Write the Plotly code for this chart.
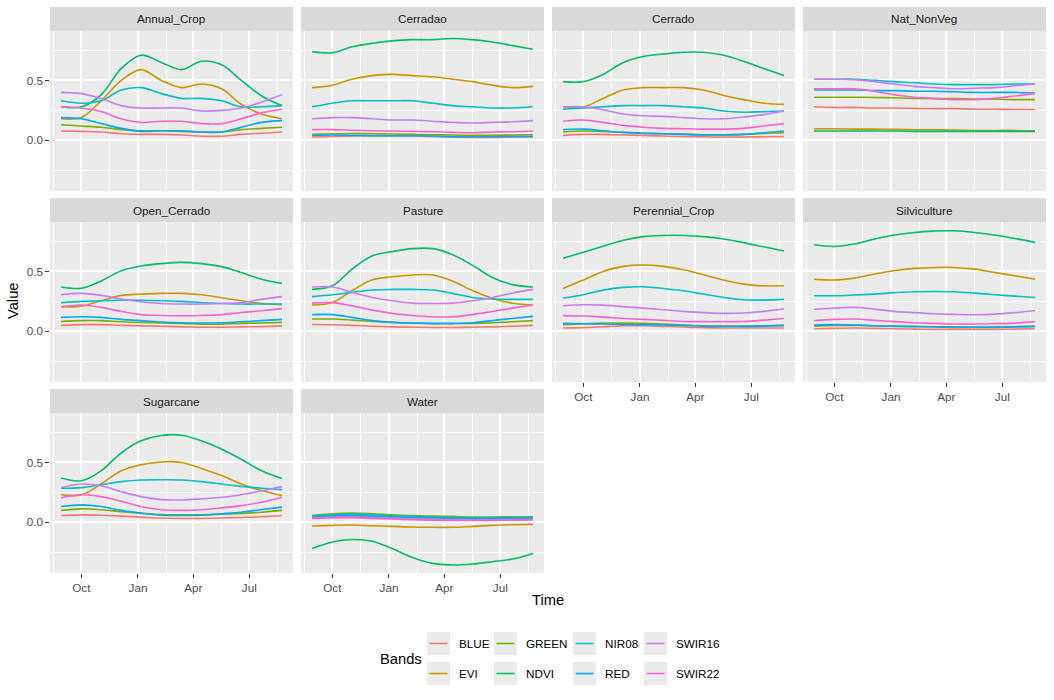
import plotly.graph_objects as go

# ---------------- data ----------------
dates = ["2022-08-29", "2022-10-01", "2022-11-02", "2022-12-05", "2023-01-06", "2023-02-08",
         "2023-03-13", "2023-04-14", "2023-05-17", "2023-06-18", "2023-07-21", "2023-08-23"]

bands = ["BLUE", "EVI", "GREEN", "NDVI", "NIR08", "RED", "SWIR16", "SWIR22"]
band_colors = ["#F8766D", "#CD9600", "#7CAE00", "#00BE67", "#00BFC4", "#00A9FF", "#C77CFF", "#FF61CC"]

classes = ["Annual_Crop", "Cerradao", "Cerrado", "Nat_NonVeg", "Open_Cerrado",
           "Pasture", "Perennial_Crop", "Silviculture", "Sugarcane", "Water"]

x_tick_labels = ["Oct", "Jan", "Apr", "Jul"]
y_tick_values = [0.0, 0.5]

annual_crop = {
    "BLUE":   [0.078, 0.075, 0.07, 0.055, 0.05, 0.05, 0.045, 0.035, 0.035, 0.05, 0.06, 0.07],
    "EVI":    [0.18, 0.19, 0.33, 0.50, 0.59, 0.50, 0.44, 0.47, 0.43, 0.30, 0.22, 0.18],
    "GREEN":  [0.13, 0.12, 0.11, 0.09, 0.08, 0.08, 0.075, 0.07, 0.07, 0.09, 0.10, 0.11],
    "NDVI":   [0.28, 0.28, 0.38, 0.60, 0.71, 0.65, 0.59, 0.66, 0.63, 0.50, 0.37, 0.29],
    "NIR08":  [0.33, 0.31, 0.33, 0.42, 0.44, 0.39, 0.35, 0.35, 0.33, 0.28, 0.28, 0.29],
    "RED":    [0.19, 0.18, 0.14, 0.10, 0.075, 0.08, 0.08, 0.07, 0.07, 0.11, 0.15, 0.165],
    "SWIR16": [0.40, 0.39, 0.35, 0.29, 0.27, 0.27, 0.27, 0.245, 0.25, 0.27, 0.32, 0.38],
    "SWIR22": [0.28, 0.27, 0.24, 0.18, 0.15, 0.16, 0.16, 0.14, 0.14, 0.18, 0.23, 0.26],
}
cerradao = {
    "BLUE":   [0.028, 0.033, 0.036, 0.036, 0.036, 0.036, 0.033, 0.028, 0.025, 0.025, 0.028, 0.028],
    "EVI":    [0.44, 0.46, 0.51, 0.54, 0.55, 0.54, 0.53, 0.51, 0.49, 0.46, 0.44, 0.45],
    "GREEN":  [0.05, 0.055, 0.058, 0.055, 0.053, 0.05, 0.047, 0.045, 0.042, 0.042, 0.045, 0.047],
    "NDVI":   [0.74, 0.73, 0.78, 0.81, 0.83, 0.84, 0.84, 0.85, 0.84, 0.82, 0.79, 0.76],
    "NIR08":  [0.28, 0.31, 0.33, 0.33, 0.33, 0.33, 0.31, 0.29, 0.28, 0.27, 0.27, 0.28],
    "RED":    [0.042, 0.045, 0.042, 0.039, 0.039, 0.039, 0.036, 0.03, 0.03, 0.03, 0.033, 0.033],
    "SWIR16": [0.18, 0.19, 0.19, 0.18, 0.17, 0.17, 0.16, 0.15, 0.145, 0.15, 0.155, 0.165],
    "SWIR22": [0.09, 0.09, 0.085, 0.08, 0.078, 0.075, 0.072, 0.067, 0.064, 0.07, 0.072, 0.078],
}
cerrado = {
    "BLUE":   [0.042, 0.05, 0.05, 0.045, 0.042, 0.036, 0.033, 0.03, 0.028, 0.028, 0.03, 0.033],
    "EVI":    [0.28, 0.28, 0.35, 0.42, 0.44, 0.44, 0.44, 0.42, 0.375, 0.34, 0.31, 0.30],
    "GREEN":  [0.07, 0.078, 0.075, 0.067, 0.06, 0.055, 0.053, 0.047, 0.047, 0.05, 0.058, 0.064],
    "NDVI":   [0.49, 0.49, 0.55, 0.65, 0.70, 0.72, 0.735, 0.735, 0.71, 0.66, 0.60, 0.54],
    "NIR08":  [0.26, 0.27, 0.28, 0.29, 0.29, 0.29, 0.28, 0.27, 0.245, 0.235, 0.24, 0.245],
    "RED":    [0.09, 0.094, 0.08, 0.067, 0.06, 0.055, 0.05, 0.045, 0.045, 0.05, 0.064, 0.078],
    "SWIR16": [0.28, 0.28, 0.255, 0.22, 0.205, 0.20, 0.19, 0.18, 0.18, 0.195, 0.215, 0.245],
    "SWIR22": [0.16, 0.17, 0.15, 0.125, 0.11, 0.10, 0.097, 0.094, 0.094, 0.10, 0.12, 0.14],
}
nat_nonveg = {
    "BLUE":   [0.28, 0.275, 0.275, 0.27, 0.27, 0.267, 0.265, 0.265, 0.26, 0.26, 0.258, 0.258],
    "EVI":    [0.097, 0.097, 0.094, 0.094, 0.092, 0.089, 0.089, 0.086, 0.083, 0.083, 0.083, 0.08],
    "GREEN":  [0.36, 0.36, 0.36, 0.358, 0.355, 0.35, 0.348, 0.348, 0.345, 0.343, 0.34, 0.34],
    "NDVI":   [0.078, 0.078, 0.078, 0.078, 0.078, 0.075, 0.075, 0.075, 0.075, 0.075, 0.075, 0.075],
    "NIR08":  [0.51, 0.51, 0.51, 0.50, 0.49, 0.48, 0.47, 0.465, 0.465, 0.465, 0.47, 0.47],
    "RED":    [0.42, 0.42, 0.42, 0.415, 0.415, 0.41, 0.41, 0.405, 0.40, 0.40, 0.40, 0.395],
    "SWIR16": [0.51, 0.51, 0.505, 0.49, 0.47, 0.45, 0.44, 0.43, 0.435, 0.44, 0.455, 0.47],
    "SWIR22": [0.43, 0.43, 0.43, 0.41, 0.38, 0.36, 0.35, 0.34, 0.34, 0.35, 0.37, 0.39],
}
open_cerrado = {
    "BLUE":   [0.05, 0.056, 0.056, 0.05, 0.046, 0.043, 0.038, 0.035, 0.035, 0.038, 0.04, 0.046],
    "EVI":    [0.205, 0.21, 0.255, 0.30, 0.31, 0.317, 0.317, 0.305, 0.28, 0.255, 0.233, 0.222],
    "GREEN":  [0.083, 0.09, 0.09, 0.08, 0.075, 0.07, 0.067, 0.06, 0.06, 0.067, 0.07, 0.075],
    "NDVI":   [0.37, 0.36, 0.42, 0.505, 0.545, 0.565, 0.575, 0.565, 0.54, 0.49, 0.435, 0.40],
    "NIR08":  [0.24, 0.25, 0.256, 0.26, 0.26, 0.256, 0.25, 0.24, 0.233, 0.228, 0.228, 0.228],
    "RED":    [0.117, 0.122, 0.117, 0.10, 0.09, 0.078, 0.072, 0.07, 0.072, 0.08, 0.09, 0.10],
    "SWIR16": [0.305, 0.317, 0.30, 0.27, 0.247, 0.233, 0.228, 0.228, 0.233, 0.24, 0.267, 0.29],
    "SWIR22": [0.205, 0.22, 0.20, 0.166, 0.14, 0.133, 0.13, 0.133, 0.14, 0.158, 0.172, 0.19],
}
pasture = {
    "BLUE":   [0.057, 0.055, 0.05, 0.043, 0.038, 0.035, 0.033, 0.033, 0.035, 0.038, 0.043, 0.05],
    "EVI":    [0.22, 0.24, 0.34, 0.43, 0.455, 0.47, 0.47, 0.42, 0.34, 0.275, 0.235, 0.22],
    "GREEN":  [0.103, 0.103, 0.094, 0.083, 0.075, 0.07, 0.064, 0.064, 0.067, 0.072, 0.08, 0.09],
    "NDVI":   [0.35, 0.38, 0.52, 0.63, 0.665, 0.69, 0.69, 0.64, 0.55, 0.45, 0.39, 0.37],
    "NIR08":  [0.29, 0.305, 0.325, 0.345, 0.35, 0.35, 0.345, 0.317, 0.283, 0.27, 0.267, 0.267],
    "RED":    [0.14, 0.14, 0.117, 0.09, 0.075, 0.07, 0.067, 0.067, 0.072, 0.09, 0.108, 0.125],
    "SWIR16": [0.37, 0.37, 0.325, 0.283, 0.255, 0.236, 0.233, 0.236, 0.255, 0.283, 0.32, 0.35],
    "SWIR22": [0.236, 0.24, 0.213, 0.177, 0.15, 0.133, 0.122, 0.122, 0.14, 0.166, 0.194, 0.22],
}
perennial_crop = {
    "BLUE":   [0.028, 0.031, 0.039, 0.047, 0.047, 0.042, 0.036, 0.031, 0.028, 0.028, 0.028, 0.028],
    "EVI":    [0.358, 0.428, 0.50, 0.542, 0.553, 0.542, 0.514, 0.472, 0.428, 0.394, 0.38, 0.38],
    "GREEN":  [0.056, 0.064, 0.069, 0.069, 0.067, 0.061, 0.053, 0.047, 0.044, 0.044, 0.047, 0.05],
    "NDVI":   [0.61, 0.66, 0.71, 0.76, 0.79, 0.80, 0.80, 0.79, 0.77, 0.74, 0.705, 0.67],
    "NIR08":  [0.278, 0.306, 0.344, 0.367, 0.372, 0.358, 0.339, 0.311, 0.283, 0.264, 0.261, 0.267],
    "RED":    [0.067, 0.064, 0.061, 0.058, 0.056, 0.053, 0.05, 0.044, 0.042, 0.042, 0.044, 0.05],
    "SWIR16": [0.214, 0.222, 0.219, 0.206, 0.194, 0.181, 0.167, 0.156, 0.15, 0.153, 0.167, 0.189],
    "SWIR22": [0.131, 0.128, 0.119, 0.108, 0.10, 0.092, 0.083, 0.081, 0.081, 0.083, 0.094, 0.108],
}
silviculture = {
    "BLUE":   [0.022, 0.025, 0.028, 0.025, 0.022, 0.019, 0.017, 0.017, 0.017, 0.017, 0.019, 0.022],
    "EVI":    [0.436, 0.428, 0.444, 0.478, 0.506, 0.525, 0.533, 0.533, 0.519, 0.492, 0.464, 0.436],
    "GREEN":  [0.044, 0.05, 0.05, 0.047, 0.042, 0.039, 0.036, 0.033, 0.033, 0.033, 0.036, 0.039],
    "NDVI":   [0.722, 0.708, 0.728, 0.769, 0.803, 0.825, 0.836, 0.839, 0.825, 0.803, 0.775, 0.742],
    "NIR08":  [0.297, 0.297, 0.303, 0.311, 0.322, 0.331, 0.333, 0.331, 0.319, 0.306, 0.294, 0.283],
    "RED":    [0.053, 0.056, 0.053, 0.047, 0.044, 0.042, 0.039, 0.036, 0.036, 0.036, 0.039, 0.044],
    "SWIR16": [0.183, 0.194, 0.20, 0.186, 0.167, 0.156, 0.147, 0.142, 0.139, 0.144, 0.156, 0.172],
    "SWIR22": [0.089, 0.10, 0.103, 0.092, 0.081, 0.072, 0.067, 0.061, 0.061, 0.064, 0.069, 0.081],
}
sugarcane = {
    "BLUE":   [0.058, 0.063, 0.06, 0.052, 0.044, 0.036, 0.033, 0.033, 0.036, 0.041, 0.047, 0.058],
    "EVI":    [0.23, 0.23, 0.32, 0.43, 0.48, 0.504, 0.50, 0.45, 0.39, 0.32, 0.265, 0.223],
    "GREEN":  [0.10, 0.113, 0.105, 0.09, 0.077, 0.066, 0.063, 0.063, 0.069, 0.074, 0.085, 0.10],
    "NDVI":   [0.37, 0.347, 0.43, 0.58, 0.68, 0.725, 0.727, 0.68, 0.61, 0.526, 0.43, 0.366],
    "NIR08":  [0.284, 0.29, 0.314, 0.34, 0.353, 0.355, 0.353, 0.34, 0.32, 0.30, 0.284, 0.273],
    "RED":    [0.132, 0.146, 0.132, 0.10, 0.077, 0.06, 0.058, 0.06, 0.072, 0.085, 0.107, 0.127],
    "SWIR16": [0.29, 0.32, 0.305, 0.256, 0.215, 0.19, 0.187, 0.196, 0.21, 0.231, 0.264, 0.298],
    "SWIR22": [0.204, 0.23, 0.215, 0.176, 0.132, 0.105, 0.10, 0.105, 0.121, 0.14, 0.168, 0.21],
}
water = {
    "BLUE":   [0.039, 0.047, 0.05, 0.044, 0.039, 0.033, 0.03, 0.028, 0.028, 0.028, 0.028, 0.028],
    "EVI":    [-0.03, -0.025, -0.022, -0.028, -0.033, -0.039, -0.041, -0.041, -0.033, -0.025, -0.019, -0.017],
    "GREEN":  [0.058, 0.072, 0.077, 0.072, 0.063, 0.058, 0.052, 0.05, 0.044, 0.044, 0.047, 0.047],
    "NDVI":   [-0.218, -0.163, -0.143, -0.157, -0.218, -0.292, -0.342, -0.355, -0.347, -0.328, -0.306, -0.26],
    "NIR08":  [0.052, 0.063, 0.069, 0.063, 0.055, 0.05, 0.044, 0.041, 0.039, 0.039, 0.041, 0.041],
    "RED":    [0.044, 0.055, 0.058, 0.052, 0.047, 0.041, 0.036, 0.033, 0.03, 0.03, 0.033, 0.033],
    "SWIR16": [0.036, 0.041, 0.044, 0.041, 0.033, 0.028, 0.025, 0.022, 0.022, 0.022, 0.022, 0.025],
    "SWIR22": [0.033, 0.039, 0.039, 0.033, 0.028, 0.022, 0.019, 0.017, 0.017, 0.017, 0.019, 0.022],
}

class_data = {
    "Annual_Crop": annual_crop, "Cerradao": cerradao, "Cerrado": cerrado,
    "Nat_NonVeg": nat_nonveg, "Open_Cerrado": open_cerrado, "Pasture": pasture,
    "Perennial_Crop": perennial_crop, "Silviculture": silviculture,
    "Sugarcane": sugarcane, "Water": water,
}

# ---------------- layout geometry (pixels) ----------------
W, H = 1054, 700
col_px = [(50, 293), (301, 544), (552, 795), (803, 1046)]
row_px = [(31, 191), (222, 382), (413, 573)]
strip_px = [(7, 31), (198, 222), (389, 413)]
FONT = "Liberation Sans, Arial, sans-serif"
SMALL = 11.7
TITLE = 14.7


def fx(x):
    return x / W


def fy(y):
    return 1 - y / H


x_range = ["2022-08-11", "2023-09-10"]
y_range = [-0.422, 0.912]

fig = go.Figure()
shapes = []
annotations = []
layout_axes = {}

ncols = 4
n = len(classes)
for k, cls in enumerate(classes):
    r, c = divmod(k, ncols)
    idx = k + 1
    sfx = "" if idx == 1 else str(idx)
    bottom = (k + ncols) >= n
    left = c == 0
    x0, x1 = col_px[c]
    y0, y1 = row_px[r]
    layout_axes["xaxis" + sfx] = dict(
        domain=[fx(x0), fx(x1)], anchor="y" + sfx, type="date", range=x_range,
        tick0="2022-10-01", dtick="M3", tickformat="%b",
        showgrid=True, gridcolor="white", gridwidth=1.9,
        minor=dict(tick0="2022-08-16", dtick="M3", showgrid=True,
                   gridcolor="white", gridwidth=0.95),
        zeroline=False, showline=False,
        showticklabels=bottom, ticks="outside" if bottom else "",
        ticklen=3.7, tickwidth=1.3, tickcolor="#333333",
        tickfont=dict(family=FONT, size=SMALL, color="#4D4D4D"),
        fixedrange=True,
    )
    layout_axes["yaxis" + sfx] = dict(
        domain=[fy(y1), fy(y0)], anchor="x" + sfx, range=y_range,
        tickmode="array", tickvals=y_tick_values, tickformat=".1f",
        showgrid=True, gridcolor="white", gridwidth=1.9,
        minor=dict(tick0=0.25, dtick=0.5, showgrid=True,
                   gridcolor="white", gridwidth=0.95),
        zeroline=False, showline=False,
        showticklabels=left, ticks="outside" if left else "",
        ticklen=3.7, tickwidth=1.3, tickcolor="#333333",
        tickfont=dict(family=FONT, size=SMALL, color="#4D4D4D"),
        fixedrange=True,
    )
    sy0, sy1 = strip_px[r]
    shapes.append(dict(type="rect", xref="paper", yref="paper",
                       x0=fx(x0), x1=fx(x1), y0=fy(sy1), y1=fy(sy0),
                       fillcolor="#D9D9D9", line=dict(width=0), layer="below"))
    annotations.append(dict(text=cls, xref="paper", yref="paper",
                            x=fx((x0 + x1) / 2), y=fy((sy0 + sy1) / 2),
                            showarrow=False, xanchor="center", yanchor="middle",
                            font=dict(family=FONT, size=SMALL, color="#1A1A1A")))
    vals = class_data[cls]
    for b, col in zip(bands, band_colors):
        fig.add_trace(go.Scatter(
            x=dates, y=vals[b], mode="lines", name=b,
            line=dict(color=col, width=1.6, shape="spline", smoothing=1.0),
            xaxis="x" + sfx, yaxis="y" + sfx, showlegend=False,
            legendgroup=b,
        ))

annotations.append(dict(text="Time", xref="paper", yref="paper", x=fx(548), y=fy(600),
                        showarrow=False, xanchor="center", yanchor="middle",
                        font=dict(family=FONT, size=TITLE, color="black")))
annotations.append(dict(text="Value", xref="paper", yref="paper", x=fx(13), y=fy(301),
                        showarrow=False, xanchor="center", yanchor="middle", textangle=-90,
                        font=dict(family=FONT, size=TITLE, color="black")))

annotations.append(dict(text="Bands", xref="paper", yref="paper", x=fx(378), y=fy(659),
                        showarrow=False, xanchor="left", yanchor="middle",
                        font=dict(family=FONT, size=TITLE, color="black")))
key_x = [427, 494, 573, 644]
key_y = [632, 662]
for j, (b, col) in enumerate(zip(bands, band_colors)):
    cc, rr = divmod(j, 2)
    kx, ky = key_x[cc], key_y[rr]
    shapes.append(dict(type="rect", xref="paper", yref="paper",
                       x0=fx(kx), x1=fx(kx + 23), y0=fy(ky + 23), y1=fy(ky),
                       fillcolor="#EBEBEB", line=dict(width=0)))
    shapes.append(dict(type="line", xref="paper", yref="paper",
                       x0=fx(kx + 2.5), x1=fx(kx + 20.5), y0=fy(ky + 11.5), y1=fy(ky + 11.5),
                       line=dict(color=col, width=1.6)))
    annotations.append(dict(text=b, xref="paper", yref="paper", x=fx(kx + 30), y=fy(ky + 11.5),
                            showarrow=False, xanchor="left", yanchor="middle",
                            font=dict(family=FONT, size=SMALL, color="black")))

fig.update_layout(
    width=W, height=H, autosize=False,
    margin=dict(l=0, r=0, t=0, b=0, pad=0),
    paper_bgcolor="white", plot_bgcolor="#EBEBEB",
    font=dict(family=FONT, size=SMALL, color="#4D4D4D"),
    shapes=shapes, annotations=annotations, showlegend=False,
    hovermode=False,
    **layout_axes,
)

fig.write_html("out.html", config={"displayModeBar": False},
               post_script="document.body.style.margin='0';document.body.style.overflow='hidden';")
